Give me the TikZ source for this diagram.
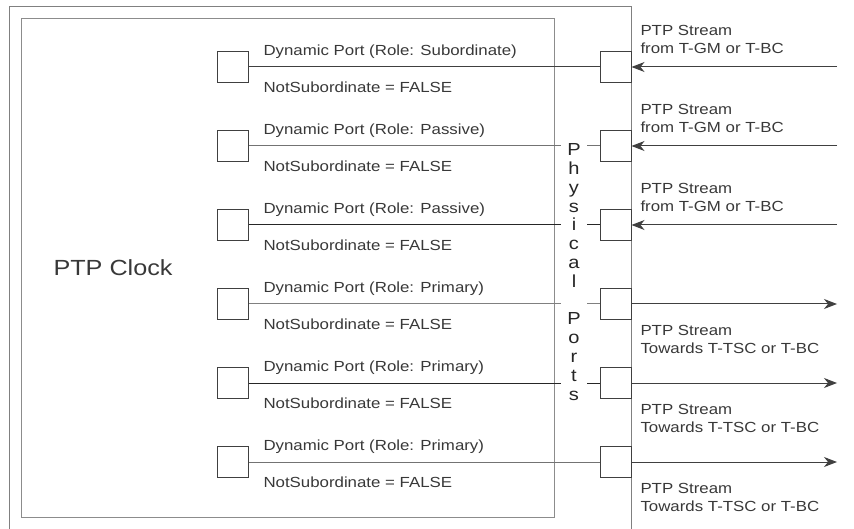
\documentclass[tikz,border=0pt]{standalone}
\usepackage{fontspec}
\setmainfont{Liberation Sans}[FakeStretch=1.15]
\usetikzlibrary{arrows.meta}

\begin{document}
\begin{tikzpicture}[x=1bp, y=-1bp, line width=1bp,
    port/.style={draw=black!75, minimum width=31bp, minimum height=31bp, inner sep=0pt},
    txt/.style={text=black!78, font=\fontsize{14.7}{18}\selectfont, inner sep=0pt, anchor=west, align=left},
    tip/.style={-{Stealth[length=13bp, width=10bp, inset=4bp]}, black!75}]

    \useasboundingbox (0,0) rectangle (854,529);

    \draw[black!50] (9,529) -- (9,7) -- (631,7) -- (631,529);
    \draw[black!45] (21,19) rectangle (554,517);

    \node[txt, font=\fontsize{22}{26}\selectfont] (clock) at (53,268) {PTP Clock};

    \foreach \r/\role/\shade in {1/Subordinate/black!75, 2/Passive/black!55, 3/Passive/black!85,
                                 4/Primary/black!50, 5/Primary/black!85, 6/Primary/black!55} {
        \pgfmathsetmacro\y{67+79*(\r-1)}
        \node[port] (in\r) at (232.5,\y) {};
        \node[port] (out\r) at (615.5,\y) {};
        \draw[\shade] (in\r) -- (out\r);
        \node[txt] (role\r) at (263,\y-15) {Dynamic Port (Role: \role)};
        \node[txt] (flag\r) at (263,\y+20) {NotSubordinate = FALSE};
    }

    % streams coming in
    \foreach \r in {1,2,3} {
        \pgfmathsetmacro\y{67+79*(\r-1)}
        \coordinate (src\r) at (837,\y);
        \draw[tip] (src\r) -- (out\r);
        \node[txt] (from\r) at (640,\y-28) {PTP Stream\\from T-GM or T-BC};
    }

    % streams going out
    \foreach \r in {4,5,6} {
        \pgfmathsetmacro\y{67+79*(\r-1)}
        \coordinate (dst\r) at (837,\y);
        \draw[tip] (out\r) -- (dst\r);
        \node[txt] (to\r) at (640,\y+35) {PTP Stream\\Towards T-TSC or T-BC};
    }

    \node[fill=white, text=black!85, align=center, minimum width=26bp, inner ysep=3bp,
          font=\fontsize{17.5}{18.85}\selectfont] (phys) at (574,272)
          {P\\h\\y\\s\\i\\c\\a\\l\\[18.85bp]P\\o\\r\\t\\s};
\end{tikzpicture}
\end{document}
